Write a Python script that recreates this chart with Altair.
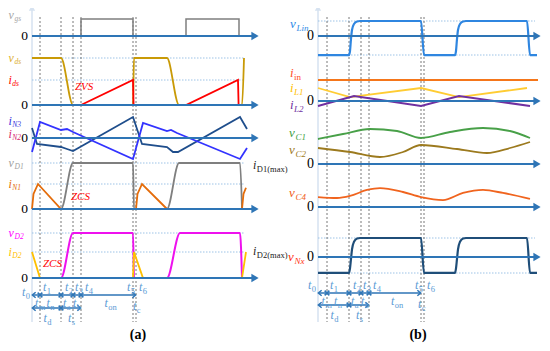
import altair as alt
import pandas as pd

# ---------------- values ----------------
# switching instants t1..t6 (t0 = 0), in time units
A_MARKS = [8, 29, 41, 49, 101, 104]
B_MARKS = [9, 31, 43, 51, 103, 106]
MARK_SUBS = ["0", "1", "2", "3", "4", "5", "6"]

# panel (a) waveforms: time, level (1 = dotted reference level)
A_VGS_T = [0, 49, 49, 101, 101, 154, 154, 207, 207, 215]
A_VGS_V = [0, 0, 1, 1, 0, 0, 1, 1, 0, 0]
A_VDS_T = [0, 29, 41, 101, 102, 135, 147, 210, 212]
A_VDS_V = [1, 1, 0, 0, 1, 1, 0, 0, 1]
A_IDS_T = [49, 101, 101.6, 154, 206, 206.6]
A_IDS_V = [0, 1, 0, 0, 1, 0]
A_IN2_T = [0, 5, 29, 35, 41, 101, 110, 135, 141, 146, 208, 215]
A_IN2_V = [0.5, -0.3, -0.45, -0.55, -0.65, 1.05, -0.3, -0.45, -0.7, -0.7, 1.05, 0.45]
A_IN3_T = [0, 8, 29, 35, 41, 101, 111, 135, 139, 145, 208, 215]
A_IN3_V = [-0.7, 0.8, 0.4, 0.45, 0.3, -1.05, 0.75, 0.35, 0.4, 0.25, -1.05, -0.5]
A_VD1_T = [0, 29, 41, 101, 102, 135, 147, 208, 210]
A_VD1_V = [0, 0, 1, 1, 0, 0, 1, 1, 0]
A_IN1_T = [0, 1.5, 6, 29, 104, 105.5, 110, 135, 210, 211.5, 214]
A_IN1_V = [0, 0.6, 1, 0, 0, 0.6, 1, 0, 0, 0.6, 0.85]
A_VD2_T = [0, 29, 41, 101, 102, 135, 148, 208, 210]
A_VD2_V = [0, 0, 1, 1, 0, 0, 1, 1, 0]
A_ID2_T = [0, 8, 101, 102, 111, 210, 214]
A_ID2_V = [1, 0, 0, 1, 0, 0, 1]

# panel (b) waveforms
B_SW_T = [0, 31, 32, 33, 34, 36, 39, 42, 103, 106, 137, 138, 139, 140, 142, 145, 148, 209, 212, 219]
B_VLIN_V = [-1.27, -1.27, -1.0, -0.2, 0.4, 0.8, 0.97, 1, 1, -1.27, -1.27, -1.0, -0.2, 0.4, 0.8, 0.97, 1, 1, -1.27, -1.27]
B_VNX_V = [-0.84, -0.84, -0.6, -0.1, 0.4, 0.8, 0.97, 1, 1, -0.84, -0.84, -0.6, -0.1, 0.4, 0.8, 0.97, 1, 1, -0.84, -0.84]
B_IIN_T = [0, 220]
B_IIN_V = [1, 1]
B_IL1_T = [0, 32, 103, 141, 209]
B_IL1_V = [1, 0.3, 1, 0.3, 1]
B_IL2_T = [0, 36, 103, 141, 212]
B_IL2_V = [-0.38, 0.38, -0.38, 0.38, -0.38]
B_VC1_T = [0, 25, 52, 79, 103, 132, 165, 192, 212]
B_VC1_V = [1.0, 1.2, 1.4, 1.32, 1.04, 1.28, 1.44, 1.32, 1.04]
B_VC2_T = [0, 32, 62, 85, 103, 139, 169, 192, 212]
B_VC2_V = [0.64, 0.48, 0.28, 0.48, 0.76, 0.6, 0.44, 0.64, 0.88]
B_VC4_T = [0, 19, 32, 49, 62, 85, 103, 125, 145, 165, 185, 212]
B_VC4_V = [0.83, 0.75, 0.92, 1.42, 1.58, 1.25, 0.83, 0.58, 1.17, 1.42, 1.17, 0.67]

A_LABELS = [("v", "gs"), ("v", "ds"), ("i", "ds"), ("i", "N3"), ("i", "N2"),
            ("v", "D1"), ("i", "N1"), ("v", "D2"), ("i", "D2")]
B_LABELS = [("v", "Lin"), ("i", "in"), ("i", "L1"), ("i", "L2"), ("v", "C1"),
            ("v", "C2"), ("v", "C4"), ("v", "Nx")]
ROW1_SUBS = ["m", "n", "a", "b", "on"]
ROW2_SUBS = ["d", "s"]

# ---------------- layout ----------------
W, H = 534, 335
AX_X = {"a": 32, "b": 318}
AXC = "#2e75b6"
REFC = "#9dc3e6"
TC = "#5b9bd5"
FONT = "Liberation Serif"

XS = alt.Scale(domain=[8, 8 + W], nice=False, zero=False)
YS = alt.Scale(domain=[8, 8 + H], nice=False, zero=False, reverse=True)
X = alt.X("x:Q", scale=XS, axis=None)
Y = alt.Y("y:Q", scale=YS, axis=None)

lin_specs = [
    ("vgs", "a", A_VGS_T, A_VGS_V, 36, 17, "#7f7f7f", 1.5),
    ("ids", "a", A_IDS_T, A_IDS_V, 105, 25, "#ff0000", 1.8),
    ("in2", "a", A_IN2_T, A_IN2_V, 138, 20, "#1f4e8c", 1.8),
    ("in3", "a", A_IN3_T, A_IN3_V, 138, 20, "#3333ff", 1.8),
    ("in1", "a", A_IN1_T, A_IN1_V, 209, 25, "#e46c0a", 1.8),
    ("id2", "a", A_ID2_T, A_ID2_V, 278, 26, "#ffc000", 1.8),
    ("iin", "b", B_IIN_T, B_IIN_V, 101, 21, "#f5761a", 2.0),
    ("il1", "b", B_IL1_T, B_IL1_V, 101, 13, "#ffcc33", 1.8),
    ("il2", "b", B_IL2_T, B_IL2_V, 101, 13, "#7030a0", 2.0),
]
mono_specs = [
    ("vds", "a", A_VDS_T, A_VDS_V, 105, 47, "#c99a06", 1.8),
    ("vd1", "a", A_VD1_T, A_VD1_V, 209, 46, "#7f7f7f", 1.8),
    ("vd2", "a", A_VD2_T, A_VD2_V, 278, 45, "#ee11ee", 2.0),
    ("vlin", "b", B_SW_T, B_VLIN_V, 36, 15, "#2f86e0", 2.2),
    ("vc1", "b", B_VC1_T, B_VC1_V, 164, 25, "#48a048", 1.8),
    ("vc2", "b", B_VC2_T, B_VC2_V, 164, 25, "#9c7a1e", 1.8),
    ("vc4", "b", B_VC4_T, B_VC4_V, 207, 12, "#f0641e", 1.8),
    ("vnx", "b", B_SW_T, B_VNX_V, 257, 19, "#1f4e79", 2.2),
]


def lines_df(specs):
    rows = []
    for name, p, T, V, zero, amp, color, width in specs:
        for k, (t, v) in enumerate(zip(T, V)):
            rows.append(dict(id=name, i=k, x=AX_X[p] + t, y=zero - v * amp, c=color, w=width))
    return pd.DataFrame(rows)


def line_layer(df, interp):
    return alt.Chart(df).mark_line(interpolate=interp).encode(
        x=X, y=Y, color=alt.Color("c:N", scale=None),
        strokeWidth=alt.StrokeWidth("w:Q", scale=None),
        detail="id:N", order="i:Q")


# axes (zero lines with arrows)
axes = [("a", y) for y in [36, 105, 138, 209, 278]] + [("b", y) for y in [36, 101, 164, 207, 257]]
ax_end = {"a": 254, "b": 536}
ax_df = pd.DataFrame([dict(x=AX_X[p], x2=ax_end[p], y=y) for p, y in axes])
axhead_df = pd.DataFrame([dict(x=ax_end[p] + 1, y=y) for p, y in axes])

# dotted reference levels
refs = [("a", 58, 245), ("a", 80, 245), ("a", 163, 245), ("a", 184, 245),
        ("a", 233, 245), ("a", 252, 245),
        ("b", 21, 535), ("b", 55, 535), ("b", 238, 535), ("b", 273, 535)]
ref_df = pd.DataFrame([dict(x=AX_X[p], x2=e, y=y) for p, y, e in refs])

# vertical dotted instants
vl = [AX_X["a"] + t for t in A_MARKS] + [AX_X["b"] + t for t in B_MARKS]
vl_df = pd.DataFrame([dict(x=x, y=17, y2=322) for x in vl])

# y axes
yax_df = pd.DataFrame([dict(x=AX_X[p], y=10, y2=322) for p in "ab"])
yhead_df = pd.DataFrame([dict(x=AX_X[p], y=8) for p in "ab"])

# time interval arrows
row_y = {"a": (295, 308), "b": (293, 305)}
seg_rows, chev_l, chev_r, crosses = [], [], [], []
for p, marks, end_idx in [("a", A_MARKS, 5), ("b", B_MARKS, 4)]:
    x0 = AX_X[p]
    xs = [x0 + t for t in marks]
    y1, y2 = row_y[p]
    seg_rows.append(dict(x=x0 + 1, x2=xs[end_idx] - 1, y=y1))
    seg_rows.append(dict(x=x0 + 1, x2=xs[3] - 1, y=y2))
    chev_l += [dict(x=x0 + 2, y=y1), dict(x=x0 + 2, y=y2)]
    chev_r += [dict(x=xs[end_idx] - 2, y=y1), dict(x=xs[3] - 2, y=y2)]
    for k in range(4):
        crosses.append(dict(x=xs[k], y=y1))
    crosses.append(dict(x=xs[1], y=y2))
seg_df = pd.DataFrame(seg_rows)

# ---------------- texts ----------------
ital, upr, zeros, tags = [], [], [], []
MW = {"v": 6.2, "i": 3.8, "t": 3.8}


def lab(x, y, main, sub, color, ms=13, ss=9, sub_up=False):
    ital.append(dict(x=x, y=y, t=main, c=color, s=ms))
    w = MW[main] * ms / 13
    (upr if sub_up else ital).append(dict(x=x + w + 0.3, y=y + 3.5, t=sub, c=color, s=ss))


a_cols = ["#a6a6a6", "#dcae2e", "#ff0000", "#3333dd", "#d6246e", "#a0a0a0", "#e46c0a", "#ff00ff", "#ffc000"]
a_ys = [15, 58, 80, 121, 134, 163, 184, 233, 252]
for (m, s), c, y in zip(A_LABELS, a_cols, a_ys):
    lab(8.5, y, m, s, c, ms=12, ss=7.5)
b_cols = ["#2e8ae6", "#ff4f1f", "#ffc000", "#7030a0", "#3f9f3f", "#a07a24", "#f06020", "#ff3010"]
b_ys = [24, 73, 88, 105, 133, 150, 193, 257]
b_xs = [290, 290, 290, 290, 289, 289, 289, 288]
for (m, s), c, y, x in zip(B_LABELS, b_cols, b_ys, b_xs):
    lab(x, y, m, s, c, sub_up=(s == "in"))

lab(253, 165, "i", "D1(max)", "#222222", ms=12, ss=8.5, sub_up=True)
lab(253, 251, "i", "D2(max)", "#222222", ms=12, ss=8.5, sub_up=True)

for y in [36, 105, 138, 209, 278]:
    zeros.append(dict(x=28, y=y, t="0", c="#000000", s=13.5))
for y in [36, 101, 164, 207, 257]:
    zeros.append(dict(x=314, y=y, t="0", c="#000000", s=14))

ital.append(dict(x=75, y=87, t="ZVS", c="#ff0000", s=11))
ital.append(dict(x=71, y=197, t="ZCS", c="#ff0000", s=11))
ital.append(dict(x=43, y=264, t="ZCS", c="#ff0000", s=11))

# instant labels t0..t6
T_OFF = [-10, 3, 4, 2, 4, -6, 3]
for p, marks, ty in [("a", A_MARKS, 287), ("b", B_MARKS, 285)]:
    xs = [AX_X[p]] + [AX_X[p] + t for t in marks]
    for k, (x, s, o) in enumerate(zip(xs, MARK_SUBS, T_OFF)):
        lab(x + o, ty + (5 if k == 0 and p == "a" else 0), "t", s, TC, ms=12, ss=8.5, sub_up=True)
    # interval labels
    x0 = AX_X[p]
    y1, y2 = row_y[p]
    b1 = [x0] + xs[1:5] + [xs[6] if p == "a" else xs[5]]
    for k, s in enumerate(ROW1_SUBS):
        mid = (b1[k] + b1[k + 1]) / 2
        lab(mid - 4 + (3 if k == 0 else 0), y1 + 8, "t", s, TC, ms=12, ss=8.5, sub_up=True)
    endx = xs[6] if p == "a" else xs[5]
    lab(endx - 3, y1 + 11, "t", "c", TC, ms=12, ss=8.5, sub_up=True)
    b2 = [x0, xs[2], xs[4]]
    for k, s in enumerate(ROW2_SUBS):
        mid = (b2[k] + b2[k + 1]) / 2
        lab(mid - 3, y2 + 10, "t", s, TC, ms=12, ss=8.5, sub_up=True)

tags.append(dict(x=138, y=335, t="(a)", c="#000000", s=14))
tags.append(dict(x=418, y=335, t="(b)", c="#000000", s=14))


def text_layer(rows, **kw):
    return alt.Chart(pd.DataFrame(rows)).mark_text(font=FONT, baseline="middle", **kw).encode(
        x=X, y=Y, text="t:N", color=alt.Color("c:N", scale=None),
        size=alt.Size("s:Q", scale=None))


layers = [
    alt.Chart(yax_df).mark_rule(color="#d6e2f0", strokeWidth=1.5).encode(x=X, y=Y, y2="y2:Q"),
    alt.Chart(yhead_df).mark_point(shape="triangle-up", filled=True, size=40, color="#d6e2f0", opacity=1).encode(x=X, y=Y),
    alt.Chart(ref_df).mark_rule(color=REFC, strokeWidth=1, strokeDash=[1.5, 1.5]).encode(x=X, x2="x2:Q", y=Y),
    alt.Chart(vl_df).mark_rule(color="#555555", strokeWidth=0.8, strokeDash=[2, 2]).encode(x=X, y=Y, y2="y2:Q"),
    line_layer(lines_df(mono_specs), "monotone"),
    line_layer(lines_df(lin_specs), "linear"),
    alt.Chart(ax_df).mark_rule(color=AXC, strokeWidth=2).encode(x=X, x2="x2:Q", y=Y),
    alt.Chart(axhead_df).mark_point(shape="triangle-right", filled=True, size=70, color=AXC, opacity=1).encode(x=X, y=Y),
    alt.Chart(seg_df).mark_rule(color=AXC, strokeWidth=1.5).encode(x=X, x2="x2:Q", y=Y),
    alt.Chart(pd.DataFrame(chev_l)).mark_point(shape="M0.6,-1L-0.6,0L0.6,1", filled=False, size=30, color=AXC, strokeWidth=1.5, opacity=1).encode(x=X, y=Y),
    alt.Chart(pd.DataFrame(chev_r)).mark_point(shape="M-0.6,-1L0.6,0L-0.6,1", filled=False, size=30, color=AXC, strokeWidth=1.5, opacity=1).encode(x=X, y=Y),
    alt.Chart(pd.DataFrame(crosses)).mark_point(shape="M-1,-1L1,1M-1,1L1,-1", filled=False, size=22, color=AXC, strokeWidth=1.5, opacity=1).encode(x=X, y=Y),
    text_layer(ital, align="left", fontStyle="italic"),
    text_layer(upr, align="left"),
    text_layer(zeros, align="right"),
    text_layer(tags, align="center", fontWeight="bold"),
]

chart = alt.layer(*layers).properties(
    width=W, height=H, padding=0, autosize=alt.AutoSizeParams(type="none")
).configure_view(stroke=None)

chart.save("out.html", embed_options={"renderer": "svg", "actions": False})
